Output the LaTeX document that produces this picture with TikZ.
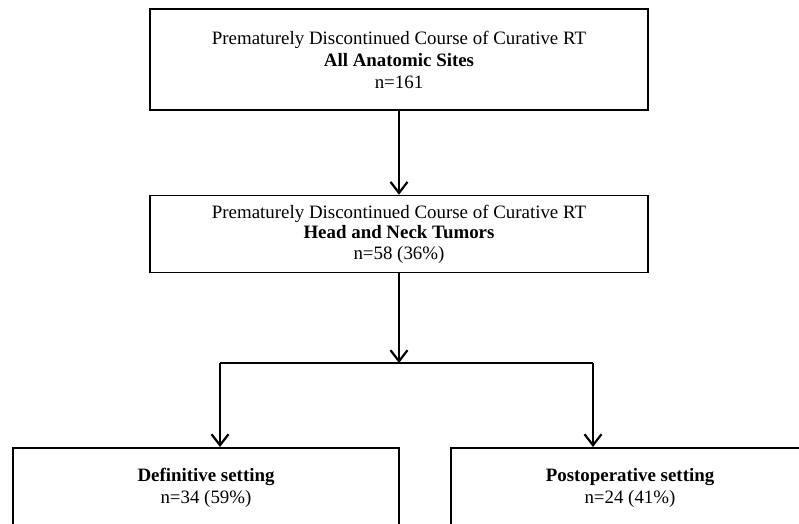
\documentclass[tikz,border=0pt]{standalone}
\usepackage{fontspec}
\setmainfont{Liberation Serif}
\usetikzlibrary{calc, arrows.meta}

\begin{document}
\begin{tikzpicture}[x=1pt, y=-1pt,
    box/.style={draw, line width=1.6pt, rectangle, align=center, inner sep=0pt,
      font=\fontsize{18.9}{22}\selectfont},
    flow/.style={line width=2.2pt, -{Straight Barb[length=11pt, width=17pt, line width=2.2pt]}}]
            \useasboundingbox (0,0) rectangle (799,523);
            \clip (0,0) rectangle (799,523);
            \node[box, minimum width=498pt, minimum height=101pt] (all) at (399,59.5)
              {Prematurely Discontinued Course of Curative RT\\ \textbf{All Anatomic Sites}\\ n=161};
            \node[box, minimum width=498pt, minimum height=77pt,
              font=\fontsize{18.9}{20.5}\selectfont] (hn) at (399,234)
              {Prematurely Discontinued Course of Curative RT\\ \textbf{Head and Neck Tumors}\\ n=58 (36\%)};
            \node[box, minimum width=386pt, minimum height=80pt, anchor=north] (def) at (206,447)
              {\textbf{Definitive setting}\\ n=34 (59\%)};
            \node[box, minimum width=358pt, minimum height=80pt, anchor=north] (post) at (630,447)
              {\textbf{Postoperative setting}\\ n=24 (41\%)};
            \coordinate (split) at (399,363);
            \coordinate (L) at (220,0);
            \coordinate (R) at (593,0);
            \draw[flow] (all) -- (hn);
            \draw[flow] (hn) -- (split);
            \draw[line width=2.2pt] (split -| L) -- (split -| R);
            \draw[flow] (split -| L) -- (def.north -| L);
            \draw[flow] (split -| R) -- (post.north -| R);
        \end{tikzpicture}
\end{document}
